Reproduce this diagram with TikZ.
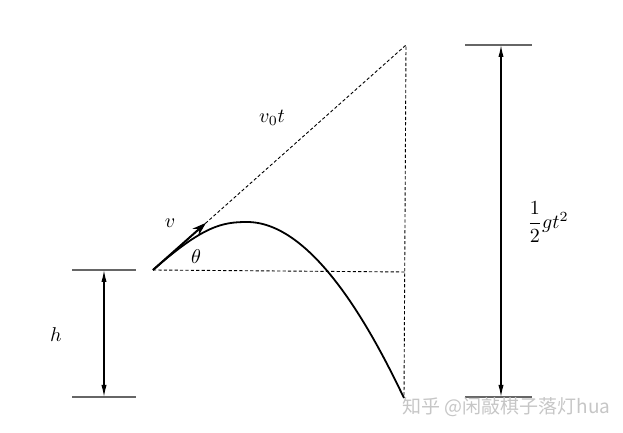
\documentclass[tikz,border=0pt]{standalone}
\usepackage{fontspec}
\newfontfamily\cjkfont{Noto Sans CJK SC}
\usetikzlibrary{calc,arrows.meta}
\usepackage{amsmath}

\begin{document}
\begin{tikzpicture}[x=0.5pt,y=-0.5pt,
    trait/.style={dash pattern=on 1.6pt off 1.1pt,line width=0.45pt},
    cote/.style={{Latex[length=6pt,width=2.6pt]}-{Latex[length=6pt,width=2.6pt]},line width=0.6pt},
    repere/.style={gray!80!black,line width=0.6pt}]
          \useasboundingbox (0,0) rectangle (623,433);
          %points du mouvement
          \coordinate (P) at (153,270);
          \coordinate (T) at (406,45);
          \coordinate (F) at (406,272);
          \coordinate (A) at (247,222);
          \coordinate (E) at (404,398);
          %lignes pointillees
          \draw[trait] (P) -- (T) -- (E);
          \draw[trait] (P) -- (F);
          \node (v0t) at (272,118) {$v_0t$};
          %trajectoire
          \draw[line width=0.9pt] (P) .. controls (203,226) and (222,222) .. (A)
                                      .. controls (317,222) and (378,344) .. (E);
          \draw[line width=1pt,-{Stealth[length=7pt,width=4.5pt]}] (P) -- ($(P)!0.21!(T)$) coordinate (V);
          \node (v) at (170,223) {$v$};
          \node (theta) at (196,257) {$\theta$};
          %hauteur h
          \draw[repere] (72,270) -- (136,270);
          \draw[repere] (72,397) -- (136,397);
          \coordinate (h1) at (104,270);
          \coordinate (h2) at (104,397);
          \draw[cote] (h1) -- (h2);
          \node (h) at (56,335) {$h$};
          %chute 1/2 g t^2
          \draw[repere] (465,45) -- (532,45);
          \draw[repere] (465,397) -- (532,397);
          \coordinate (g1) at (501,45);
          \coordinate (g2) at (501,397);
          \draw[cote] (g1) -- (g2);
          \node (chute) at (548,222) {$\dfrac{1}{2}gt^2$};
          %filigrane
          \node[text=gray!45,anchor=west,inner sep=0pt] (zh) at (402,407) {\cjkfont\fontsize{9.5pt}{11pt}\selectfont 知乎 @闲敲棋子落灯hua};
\end{tikzpicture}
\end{document}
